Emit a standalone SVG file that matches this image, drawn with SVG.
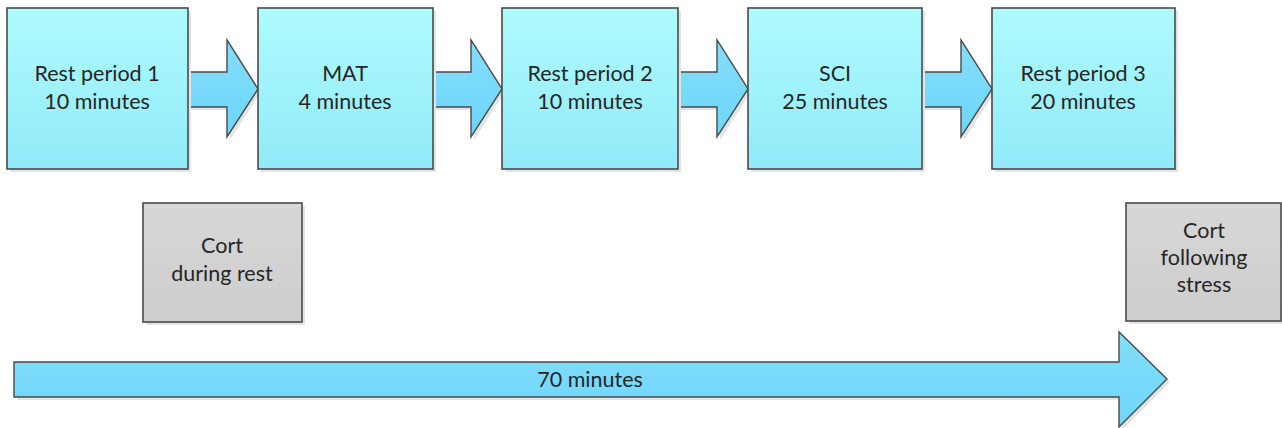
<svg xmlns="http://www.w3.org/2000/svg" width="1282" height="428" viewBox="0 0 1282 428">
<defs>
<linearGradient id="gBlue" x1="0" y1="0" x2="0" y2="1">
<stop offset="0" stop-color="#aefbfd"/>
<stop offset="1" stop-color="#92eaf9"/>
</linearGradient>
<linearGradient id="gArrow" x1="0" y1="0" x2="0" y2="1">
<stop offset="0" stop-color="#84def9"/>
<stop offset="1" stop-color="#6dd5fb"/>
</linearGradient>
<linearGradient id="gGray" x1="0" y1="0" x2="0" y2="1">
<stop offset="0" stop-color="#d7d7d7"/>
<stop offset="1" stop-color="#cdcdcd"/>
</linearGradient>
</defs>
<style>
.box{fill:url(#gBlue);stroke:#4a4a4a;stroke-width:1.6}
.gray{fill:url(#gGray);stroke:#4a4a4a;stroke-width:1.6}
.arr{fill:url(#gArrow);stroke:#4a4a4a;stroke-width:1.4;stroke-linejoin:miter}
.sh{fill:#e4e4e4}
text{font-family:Lato,"Liberation Sans",sans-serif;font-size:21.5px;fill:#262626;text-anchor:middle}
</style>
<rect width="1282" height="428" fill="#ffffff"/>
<g id="connectors">
<path class="sh" d="M191,75 L230,75 L230,43 L261,92 L230,140 L230,110 L191,110 Z"/>
<path class="arr" d="M188,72 L227,72 L227,40 L258,89 L227,137 L227,107 L188,107 Z"/>
<path class="sh" d="M436,75 L474,75 L474,43 L505,92 L474,140 L474,110 L436,110 Z"/>
<path class="arr" d="M433,72 L471,72 L471,40 L502,89 L471,137 L471,107 L433,107 Z"/>
<path class="sh" d="M681,75 L720,75 L720,43 L751,92 L720,140 L720,110 L681,110 Z"/>
<path class="arr" d="M678,72 L717,72 L717,40 L748,89 L717,137 L717,107 L678,107 Z"/>
<path class="sh" d="M925,75 L964,75 L964,43 L995,92 L964,140 L964,110 L925,110 Z"/>
<path class="arr" d="M922,72 L961,72 L961,40 L992,89 L961,137 L961,107 L922,107 Z"/>
<path class="sh" d="M17,365 L1122,365 L1122,335 L1170,382 L1122,430 L1122,400 L17,400 Z"/>
<path class="arr" d="M14,362 L1119,362 L1119,332 L1167,379 L1119,427 L1119,397 L14,397 Z"/>
<text x="590" y="387">70 minutes</text>
</g>
<g id="rest1">
<rect class="sh" x="10" y="11" width="181" height="161"/>
<rect class="box" x="7" y="8" width="181" height="161"/>
<text x="97" y="81">Rest period 1</text>
<text x="97" y="109">10 minutes</text>
</g>
<g id="mat">
<rect class="sh" x="261" y="11" width="175" height="161"/>
<rect class="box" x="258" y="8" width="175" height="161"/>
<text x="345" y="81">MAT</text>
<text x="345" y="109">4 minutes</text>
</g>
<g id="rest2">
<rect class="sh" x="505" y="11" width="176" height="161"/>
<rect class="box" x="502" y="8" width="176" height="161"/>
<text x="590" y="81">Rest period 2</text>
<text x="590" y="109">10 minutes</text>
</g>
<g id="sci">
<rect class="sh" x="751" y="11" width="174" height="161"/>
<rect class="box" x="748" y="8" width="174" height="161"/>
<text x="835" y="81">SCI</text>
<text x="835" y="109">25 minutes</text>
</g>
<g id="rest3">
<rect class="sh" x="995" y="11" width="183" height="161"/>
<rect class="box" x="992" y="8" width="183" height="161"/>
<text x="1083" y="81">Rest period 3</text>
<text x="1083" y="109">20 minutes</text>
</g>
<g id="cort1">
<rect class="sh" x="146" y="206" width="159" height="119"/>
<rect class="gray" x="143" y="203" width="159" height="119"/>
<text x="222" y="253">Cort</text>
<text x="222" y="281">during rest</text>
</g>
<g id="cort2">
<rect class="sh" x="1129" y="206" width="156" height="118"/>
<rect class="gray" x="1126" y="203" width="155" height="118"/>
<text x="1204" y="238">Cort</text>
<text x="1204" y="265">following</text>
<text x="1204" y="292">stress</text>
</g>
</svg>
